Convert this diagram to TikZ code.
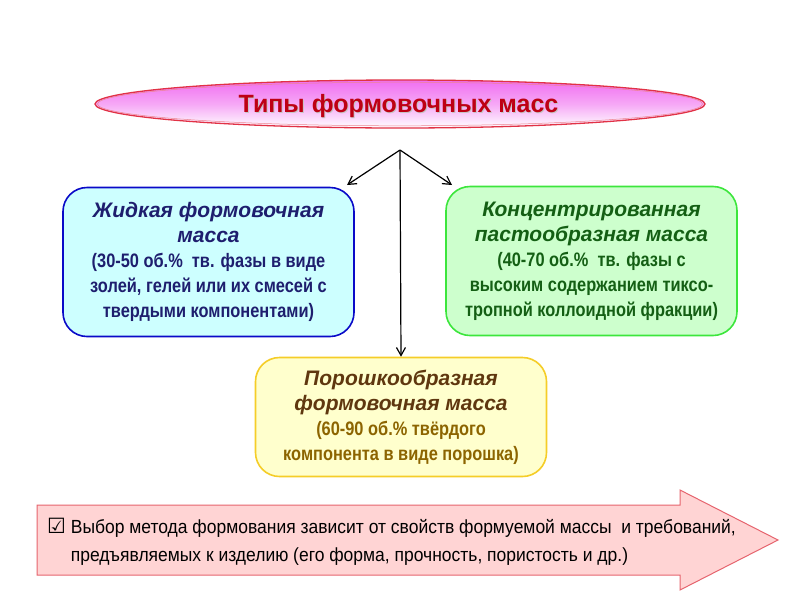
\documentclass[tikz,border=0pt]{standalone}
\usepackage{fontspec}
\setmainfont{Liberation Sans}
\newfontfamily\narrowf[FakeStretch=0.84]{Liberation Sans}
\newfontfamily\narrowg[FakeStretch=0.92]{Liberation Sans}
\newfontfamily\symf{DejaVu Sans}
\usetikzlibrary{arrows.meta}
\newcommand\myheadfont{\rmfamily\fontsize{21}{25}\selectfont\bfseries\itshape}
\newcommand\mybodyfont{\narrowf\bfseries\fontsize{19.5}{25}\selectfont}
\definecolor{titlered}{RGB}{190,0,20}
\definecolor{ellborder}{RGB}{225,50,70}
\definecolor{ellpink}{RGB}{240,110,240}
\definecolor{lborder}{RGB}{10,10,200}
\definecolor{lfill}{RGB}{205,255,255}
\definecolor{ltext}{RGB}{30,30,110}
\definecolor{rborder}{RGB}{60,230,60}
\definecolor{rfill}{RGB}{205,255,205}
\definecolor{rtext}{RGB}{20,95,20}
\definecolor{bborder}{RGB}{245,205,40}
\definecolor{bfill}{RGB}{255,255,205}
\definecolor{bhead}{RGB}{95,55,15}
\definecolor{btext}{RGB}{140,100,0}
\definecolor{arrfill}{RGB}{255,212,212}
\definecolor{arrborder}{RGB}{230,100,110}
\tikzset{
  typebox/.style={rounded corners=24pt, line width=1.6pt, minimum width=291pt,
    minimum height=149pt, inner sep=0pt, align=flush center, text width=285pt, font=\mybodyfont},
  conn/.style={-{Straight Barb[length=8pt,width=9pt]}, line width=1.2pt, black}
}
\begin{document}
\begin{tikzpicture}[x=1pt,y=-1pt]
\useasboundingbox (0,0) rectangle (800,600);
\fill[white] (0,0) rectangle (800,600);
% title ellipse
\shade[top color=ellpink, bottom color=white, middle color=ellpink!60]
  (400,104) ellipse [x radius=305, y radius=24];
\draw[ellborder, line width=1.3pt] (400,104) ellipse [x radius=305, y radius=24];
\draw[ellborder!60, line width=0.5pt] (400,104) ellipse [x radius=302.5, y radius=21.8];
\node[text=gray!45, font=\fontsize{25}{28}\selectfont\bfseries] at (399.5,107.5) {Типы формовочных масс};
\node (T) [text=titlered, font=\fontsize{25}{28}\selectfont\bfseries, minimum width=600pt, minimum height=44pt] at (398.5,106) {Типы формовочных масс};
\coordinate (apex) at (400,150);
% boxes
\node (L) [typebox, draw=lborder, fill=lfill, text=ltext] at (208.5,262)
  {{\myheadfont Жидкая формовочная\\масса\\}
   (30-50 об.\%\ \ тв. фазы в виде\\золей, гелей или их смесей с\\твердыми компонентами)};
\node (R) [typebox, draw=rborder, fill=rfill, text=rtext] at (591.5,261)
  {{\myheadfont Концентрированная\\пастообразная масса\\}
   (40-70 об.\%\ \ тв. фазы с\\высоким содержанием тиксо-\\тропной коллоидной фракции)};
\node (B) [typebox, draw=bborder, fill=bfill, minimum height=119pt, text=btext] at (401,417)
  {{\myheadfont\color{bhead} Порошкообразная\\формовочная масса\\}
   (60-90 об.\% твёрдого\\компонента в виде порошка)};
% connectors
\coordinate (lend) at (347,185);
\coordinate (rend) at (452,185);
\draw[conn] (apex) -- (lend);
\draw[conn] (apex) -- (rend);
\draw[conn] (apex) -- (B.north);
% bottom arrow
\draw[fill=arrfill, draw=arrborder, line width=1pt]
  (37,505) -- (680,505) -- (680,490) -- (778,540) -- (680,590) -- (680,575) -- (37,575) -- cycle;
\node (C) [anchor=west, align=left, inner sep=0pt, font=\narrowg\fontsize{19}{28}\selectfont] at (47,542)
  {{\symf\fontsize{21}{28}\selectfont ☑}\ Выбор метода формования зависит от свойств формуемой массы\ \ и требований,\\
   \phantom{{\symf\fontsize{21}{28}\selectfont ☑}\ }предъявляемых к изделию (его форма, прочность, пористость и др.)};
\end{tikzpicture}
\end{document}
